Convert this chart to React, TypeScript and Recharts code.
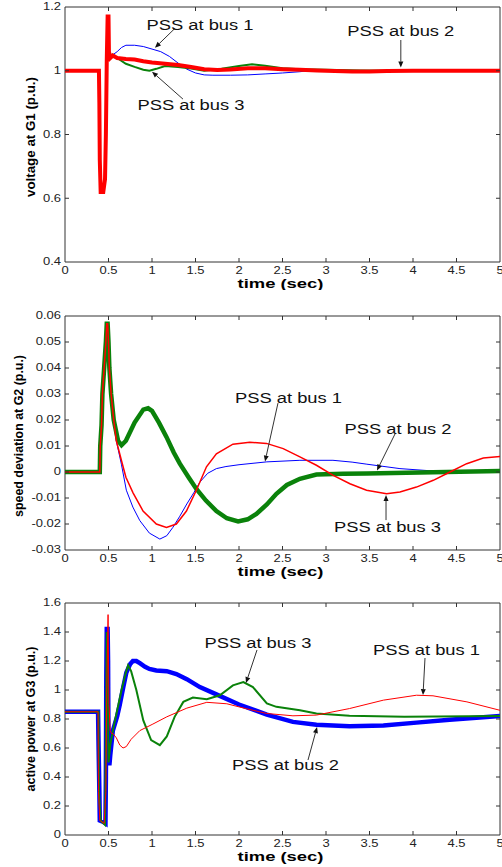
import React from "react";
import {
  LineChart,
  Line,
  XAxis,
  YAxis,
  ReferenceArea,
  ReferenceLine,
  ReferenceDot,
} from "recharts";

const FONT = "'Liberation Sans', Arial, Helvetica, sans-serif";

// shared time axis
const timeTicks = [0, 0.5, 1, 1.5, 2, 2.5, 3, 3.5, 4, 4.5, 5];
const timeTickLabels = ["0", "0.5", "1", "1.5", "2", "2.5", "3", "3.5", "4", "4.5", "5"];

// --- panel 1: voltage at G1
const voltTicks = [0.4, 0.6, 0.8, 1, 1.2];
const voltTickLabels = ["0.4", "0.6", "0.8", "1", "1.2"];

const voltBus1T = [0, 0.39, 0.395, 0.4, 0.41, 0.44, 0.45, 0.46, 0.47, 0.48, 0.49, 0.5, 0.505, 0.52, 0.55, 0.6, 0.65, 0.7, 0.8, 0.9, 1.0, 1.1, 1.2, 1.3, 1.4, 1.5, 1.6, 1.7, 1.9, 2.1, 2.3, 2.5, 2.7, 2.8, 3.0, 5.0];
const voltBus1V = [1, 1, 0.9, 0.72, 0.62, 0.62, 0.64, 0.66, 0.8, 1.03, 1.17, 1.17, 1.06, 1.05, 1.05, 1.06, 1.073, 1.08, 1.08, 1.076, 1.068, 1.06, 1.045, 1.024, 1.005, 0.993, 0.987, 0.986, 0.986, 0.987, 0.99, 0.993, 0.997, 1.0, 1.0, 1.0];

const voltBus3T = [0, 0.39, 0.395, 0.4, 0.41, 0.44, 0.45, 0.46, 0.47, 0.48, 0.49, 0.5, 0.505, 0.52, 0.55, 0.6, 0.7, 0.8, 0.9, 0.97, 1.05, 1.15, 1.3, 1.45, 1.6, 1.8, 2.0, 2.15, 2.3, 2.5, 2.7, 3.0, 3.4, 3.8, 5.0];
const voltBus3V = [1, 1, 0.9, 0.72, 0.62, 0.62, 0.64, 0.66, 0.8, 1.03, 1.17, 1.17, 1.06, 1.05, 1.05, 1.04, 1.022, 1.012, 1.003, 1.0, 1.006, 1.015, 1.012, 1.007, 1.0, 1.006, 1.015, 1.02, 1.016, 1.008, 1.005, 1.003, 1.001, 1.0, 1.0];

const voltBus2T = [0, 0.39, 0.395, 0.4, 0.41, 0.44, 0.45, 0.46, 0.47, 0.48, 0.49, 0.5, 0.505, 0.52, 0.55, 0.6, 0.7, 0.8, 0.9, 1.0, 1.15, 1.3, 1.45, 1.6, 1.75, 1.9, 2.1, 2.3, 2.5, 2.7, 2.9, 3.1, 3.3, 3.5, 3.7, 4.0, 4.5, 5.0];
const voltBus2V = [1, 1, 0.9, 0.72, 0.62, 0.62, 0.64, 0.66, 0.8, 1.03, 1.17, 1.17, 1.06, 1.04, 1.048, 1.04, 1.037, 1.035, 1.03, 1.026, 1.022, 1.018, 1.012, 1.005, 1.002, 1.004, 1.008, 1.008, 1.005, 1.003, 1.001, 0.999, 0.998, 0.998, 0.999, 1.0, 1.0, 1.0];

// --- panel 2: speed deviation at G2
const speedTicks = [-0.03, -0.02, -0.01, 0, 0.01, 0.02, 0.03, 0.04, 0.05, 0.06];
const speedTickLabels = ["-0.03", "-0.02", "-0.01", "0", "0.01", "0.02", "0.03", "0.04", "0.05", "0.06"];

const speedBus1T = [0, 0.4, 0.405, 0.42, 0.43, 0.45, 0.47, 0.48, 0.49, 0.5, 0.51, 0.53, 0.56, 0.59, 0.648, 0.705, 0.78, 0.86, 0.97, 1.09, 1.17, 1.24, 1.32, 1.4, 1.48, 1.55, 1.64, 1.74, 1.85, 2.0, 2.32, 2.7, 3.08, 3.3, 3.47, 3.85, 4.23, 4.6, 5.0];
const speedBus1V = [0, 0, 0.01, 0.018, 0.03, 0.04, 0.05, 0.057, 0.057, 0.05, 0.04, 0.03, 0.02, 0.012, 0.003, -0.007, -0.0135, -0.0187, -0.0235, -0.0258, -0.0245, -0.0213, -0.017, -0.0123, -0.008, -0.0039, -0.0005, 0.0013, 0.0021, 0.0028, 0.0039, 0.0045, 0.0045, 0.0038, 0.003, 0.0013, 0.0004, 0, 0];

const speedBus2T = [0, 0.4, 0.405, 0.42, 0.43, 0.45, 0.47, 0.48, 0.49, 0.5, 0.51, 0.53, 0.56, 0.61, 0.65, 0.7, 0.8, 0.9, 0.955, 1.0, 1.08, 1.166, 1.25, 1.32, 1.42, 1.51, 1.62, 1.74, 1.86, 1.99, 2.1, 2.2, 2.32, 2.43, 2.55, 2.7, 2.89, 3.2, 3.47, 4.23, 5.0];
const speedBus2V = [0, 0, 0.01, 0.018, 0.03, 0.04, 0.05, 0.057, 0.057, 0.05, 0.04, 0.03, 0.02, 0.012, 0.0103, 0.012, 0.019, 0.024, 0.0245, 0.0235, 0.019, 0.0135, 0.0075, 0.0032, -0.002, -0.0065, -0.011, -0.015, -0.0178, -0.019, -0.0182, -0.0161, -0.0125, -0.0084, -0.005, -0.0026, -0.001, -0.0007, -0.0006, -0.0001, 0.0004];

const speedBus3T = [0, 0.4, 0.405, 0.42, 0.43, 0.45, 0.47, 0.48, 0.49, 0.5, 0.51, 0.53, 0.56, 0.59, 0.648, 0.7, 0.782, 0.897, 1.05, 1.166, 1.28, 1.396, 1.51, 1.626, 1.74, 1.93, 2.124, 2.316, 2.508, 2.7, 2.89, 3.083, 3.275, 3.466, 3.696, 3.85, 4.04, 4.233, 4.425, 4.617, 4.808, 5.0];
const speedBus3V = [0, 0, 0.01, 0.018, 0.03, 0.04, 0.05, 0.057, 0.057, 0.05, 0.04, 0.03, 0.02, 0.012, 0.0045, -0.002, -0.008, -0.015, -0.02, -0.0213, -0.02, -0.015, -0.007, 0.002, 0.007, 0.0107, 0.0114, 0.011, 0.009, 0.0058, 0.0026, -0.0013, -0.0045, -0.007, -0.0084, -0.0077, -0.0058, -0.0032, 0, 0.0032, 0.0054, 0.006];

// --- panel 3: active power at G3
const powerTicks = [0, 0.2, 0.4, 0.6, 0.8, 1, 1.2, 1.4, 1.6];
const powerTickLabels = ["0", "0.2", "0.4", "0.6", "0.8", "1", "1.2", "1.4", "1.6"];

const powerBus2T = [0, 0.38, 0.385, 0.395, 0.4, 0.44, 0.465, 0.47, 0.475, 0.48, 0.49, 0.495, 0.5, 0.51, 0.52, 0.55, 0.6, 0.63, 0.67, 0.705, 0.75, 0.78, 0.82, 0.86, 0.92, 0.97, 1.05, 1.17, 1.28, 1.4, 1.55, 1.74, 2.0, 2.32, 2.62, 2.89, 3.27, 3.66, 4.04, 4.42, 5.0];
const powerBus2V = [0.85, 0.85, 0.65, 0.3, 0.1, 0.09, 0.08, 0.4, 1.1, 1.42, 1.42, 1.2, 0.6, 0.48, 0.55, 0.72, 0.82, 0.9, 1.02, 1.12, 1.18, 1.2, 1.2, 1.185, 1.16, 1.145, 1.135, 1.13, 1.11, 1.075, 1.02, 0.97, 0.9, 0.83, 0.78, 0.76, 0.75, 0.755, 0.775, 0.795, 0.82];

const powerBus3T = [0, 0.385, 0.39, 0.41, 0.46, 0.47, 0.48, 0.49, 0.5, 0.52, 0.55, 0.6, 0.65, 0.7, 0.725, 0.76, 0.82, 0.9, 0.99, 1.09, 1.17, 1.26, 1.36, 1.47, 1.63, 1.78, 1.93, 2.05, 2.16, 2.32, 2.43, 2.7, 2.89, 3.27, 3.9, 5.0];
const powerBus3V = [0.85, 0.85, 0.3, 0.1, 0.07, 0.7, 1.4, 1.3, 0.5, 0.62, 0.72, 0.86, 1.0, 1.12, 1.17, 1.13, 1.0, 0.79, 0.655, 0.62, 0.68, 0.815, 0.918, 0.948, 0.937, 0.964, 1.032, 1.055, 1.02, 0.907, 0.884, 0.86, 0.838, 0.822, 0.815, 0.82];

const powerBus1T = [0, 0.38, 0.385, 0.4, 0.45, 0.47, 0.48, 0.495, 0.505, 0.52, 0.535, 0.55, 0.59, 0.63, 0.667, 0.705, 0.76, 0.86, 1.01, 1.17, 1.4, 1.63, 1.86, 2.09, 2.32, 2.62, 2.89, 3.27, 3.66, 4.04, 4.23, 4.62, 5.0];
const powerBus1V = [0.85, 0.85, 0.3, 0.1, 0.08, 0.3, 1.0, 1.52, 0.9, 0.72, 0.7, 0.7, 0.67, 0.62, 0.6, 0.61, 0.66, 0.72, 0.765, 0.815, 0.875, 0.915, 0.905, 0.87, 0.838, 0.822, 0.827, 0.872, 0.93, 0.964, 0.96, 0.918, 0.86];

// annotation text + arrow, in data units
const voltNotes = [
  { text: "PSS at bus 1", x: 1.552, y: 1.1435, from: [1.264, 1.133], to: [1.034, 1.072] },
  { text: "PSS at bus 2", x: 3.86, y: 1.1247, from: [3.86, 1.0965], to: [3.86, 1.01] },
  { text: "PSS at bus 3", x: 1.448, y: 0.8926, from: [1.356, 0.911], to: [1.0, 0.997] },
];
const speedNotes = [
  { text: "PSS at bus 1", x: 2.569, y: 0.0286, from: [2.448, 0.0265], to: [2.299, 0.004] },
  { text: "PSS at bus 2", x: 3.828, y: 0.01654, from: [3.793, 0.01462], to: [3.586, 0.0006] },
  { text: "PSS at bus 3", x: 3.707, y: -0.02115, from: [3.69, -0.0185], to: [3.69, -0.00885] },
];
const powerNotes = [
  { text: "PSS at bus 3", x: 2.218, y: 1.326, from: [2.207, 1.276], to: [2.08, 1.048] },
  { text: "PSS at bus 1", x: 4.155, y: 1.276, from: [4.138, 1.2205], to: [4.115, 0.965] },
  { text: "PSS at bus 2", x: 2.534, y: 0.482, from: [2.793, 0.517], to: [2.897, 0.744] },
];

const zip = (t: number[], v: number[]) => t.map((x, i) => ({ t: x, v: v[i] }));

const RED = "#ff0000";
const GREEN = "#0a820a";
const BLUE = "#0000ff";
const PLOT_W = 435;

type Series = { key: string; t: number[]; v: number[]; color: string; width: number };
type Note = { text: string; x: number; y: number; from: number[]; to: number[] };

function ArrowShape(p: any) {
  const { x1, y1, x2, y2 } = p;
  const a = Math.atan2(y2 - y1, x2 - x1);
  const L = 6;
  const W = 2.5;
  const bx = x2 - L * Math.cos(a);
  const by = y2 - L * Math.sin(a);
  const pts = `${x2},${y2} ${bx - W * Math.sin(a)},${by + W * Math.cos(a)} ${bx + W * Math.sin(a)},${by - W * Math.cos(a)}`;
  return (
    <g>
      <line x1={x1} y1={y1} x2={bx} y2={by} stroke="#333" strokeWidth={1} />
      <polygon points={pts} fill="#111" />
    </g>
  );
}

type PanelProps = {
  height: number;
  top: number;
  xAxisH: number;
  domain: [number, number];
  ticks: number[];
  tickLabels: string[];
  title: string;
  titleX: number;
  titleDy: number;
  titleLen: number;
  series: Series[];
  notes: Note[];
};

function Panel({ height, top, xAxisH, domain, ticks, tickLabels, title, titleX, titleDy, titleLen, series, notes }: PanelProps) {
  const plotH = height - top - xAxisH;

  const TimeTick = (p: any) => {
    const { x, y, payload } = p;
    const i = timeTicks.indexOf(payload.value);
    const inner = i > 0 && i < timeTicks.length - 1;
    return (
      <g>
        {inner && <line x1={x} y1={y} x2={x} y2={y - 4} stroke="#333" />}
        {inner && <line x1={x} y1={y - plotH} x2={x} y2={y - plotH + 4} stroke="#333" />}
        <text
          transform={`translate(${x},${y + 9}) scale(1.3,1)`}
          textAnchor="middle"
          dominantBaseline="central"
          fontSize={10}
          fill="#222"
          fontFamily={FONT}
        >
          {timeTickLabels[i]}
        </text>
      </g>
    );
  };

  const ValueTick = (p: any) => {
    const { x, y, payload } = p;
    const i = ticks.indexOf(payload.value);
    const inner = i > 0 && i < ticks.length - 1;
    return (
      <g>
        {inner && <line x1={x} y1={y} x2={x + 4} y2={y} stroke="#333" />}
        {inner && <line x1={x + PLOT_W} y1={y} x2={x + PLOT_W - 4} y2={y} stroke="#333" />}
        <text
          transform={`translate(${x - 4},${y}) scale(1.3,1)`}
          textAnchor="end"
          dominantBaseline="central"
          fontSize={10}
          fill="#222"
          fontFamily={FONT}
        >
          {tickLabels[i]}
        </text>
      </g>
    );
  };

  const xTitle = (p: any) => {
    const vb = p.viewBox;
    return (
      <text
        x={vb.x + vb.width / 2 - 2}
        y={vb.y + 21.5}
        textAnchor="middle"
        dominantBaseline="central"
        fontSize={13}
        fontWeight="bold"
        fontFamily={FONT}
        textLength={86}
        lengthAdjust="spacingAndGlyphs"
        fill="#000"
      >
        time (sec)
      </text>
    );
  };

  const yTitle = (p: any) => {
    const vb = p.viewBox;
    const cy = vb.y + vb.height / 2 + titleDy;
    return (
      <text
        x={titleX}
        y={cy}
        transform={`rotate(-90 ${titleX} ${cy})`}
        textAnchor="middle"
        dominantBaseline="central"
        fontSize={13}
        fontWeight="bold"
        fontFamily={FONT}
        textLength={titleLen}
        lengthAdjust="spacingAndGlyphs"
        fill="#000"
      >
        {title}
      </text>
    );
  };

  return (
    <LineChart width={502} height={height} margin={{ top, right: 2, bottom: 0, left: 0 }}>
      <XAxis
        dataKey="t"
        type="number"
        domain={[0, 5]}
        ticks={timeTicks}
        interval={0}
        allowDataOverflow
        height={xAxisH}
        axisLine={false}
        tickLine={false}
        tickSize={0}
        tickMargin={0}
        tick={TimeTick}
        label={{ content: xTitle }}
      />
      <YAxis
        dataKey="v"
        type="number"
        domain={domain}
        ticks={ticks}
        interval={0}
        allowDataOverflow
        width={65}
        axisLine={false}
        tickLine={false}
        tickSize={0}
        tickMargin={0}
        tick={ValueTick}
        label={{ content: yTitle }}
      />
      <ReferenceArea x1={0} x2={5} y1={domain[0]} y2={domain[1]} fill="none" fillOpacity={0} stroke="#333" strokeWidth={1} />
      {series.map((s) => (
        <Line
          key={s.key}
          data={zip(s.t, s.v)}
          dataKey="v"
          type="linear"
          stroke={s.color}
          strokeWidth={s.width}
          dot={false}
          activeDot={false}
          isAnimationActive={false}
        />
      ))}
      {notes.map((n) => (
        <ReferenceLine
          key={`a-${n.text}`}
          segment={[
            { x: n.from[0], y: n.from[1] },
            { x: n.to[0], y: n.to[1] },
          ]}
          shape={ArrowShape}
        />
      ))}
      {notes.map((n) => (
        <ReferenceDot
          key={`t-${n.text}`}
          x={n.x}
          y={n.y}
          r={0}
          shape={(p: any) => (
            <text
              x={p.cx}
              y={p.cy + 5}
              textAnchor="middle"
              fontSize={14}
              fontFamily={FONT}
              textLength={107}
              lengthAdjust="spacingAndGlyphs"
              fill="#111"
            >
              {n.text}
            </text>
          )}
        />
      ))}
    </LineChart>
  );
}

export default function App() {
  return (
    <div style={{ position: "absolute", left: 0, top: 0, width: 502, height: 867, background: "#fff" }}>
      <Panel
        height={290}
        top={7}
        xAxisH={28}
        domain={[0.4, 1.2]}
        ticks={voltTicks}
        tickLabels={voltTickLabels}
        title="voltage at G1 (p.u.)"
        titleX={30}
        titleDy={2.5}
        titleLen={120}
        series={[
          { key: "b1", t: voltBus1T, v: voltBus1V, color: BLUE, width: 1 },
          { key: "b3", t: voltBus3T, v: voltBus3V, color: GREEN, width: 2 },
          { key: "b2", t: voltBus2T, v: voltBus2V, color: RED, width: 4 },
        ]}
        notes={voltNotes}
      />
      <Panel
        height={290}
        top={26}
        xAxisH={30}
        domain={[-0.03, 0.06]}
        ticks={speedTicks}
        tickLabels={speedTickLabels}
        title="speed deviation at G2 (p.u.)"
        titleX={18}
        titleDy={3}
        titleLen={162}
        series={[
          { key: "b1", t: speedBus1T, v: speedBus1V, color: BLUE, width: 1 },
          { key: "b2", t: speedBus2T, v: speedBus2V, color: GREEN, width: 4.5 },
          { key: "b3", t: speedBus3T, v: speedBus3V, color: RED, width: 1.5 },
        ]}
        notes={speedNotes}
      />
      <Panel
        height={287}
        top={23}
        xAxisH={32}
        domain={[0, 1.6]}
        ticks={powerTicks}
        tickLabels={powerTickLabels}
        title="active power at G3 (p.u.)"
        titleX={30}
        titleDy={0}
        titleLen={145}
        series={[
          { key: "b2", t: powerBus2T, v: powerBus2V, color: BLUE, width: 4.5 },
          { key: "b3", t: powerBus3T, v: powerBus3V, color: GREEN, width: 2 },
          { key: "b1", t: powerBus1T, v: powerBus1V, color: RED, width: 1 },
        ]}
        notes={powerNotes}
      />
    </div>
  );
}
